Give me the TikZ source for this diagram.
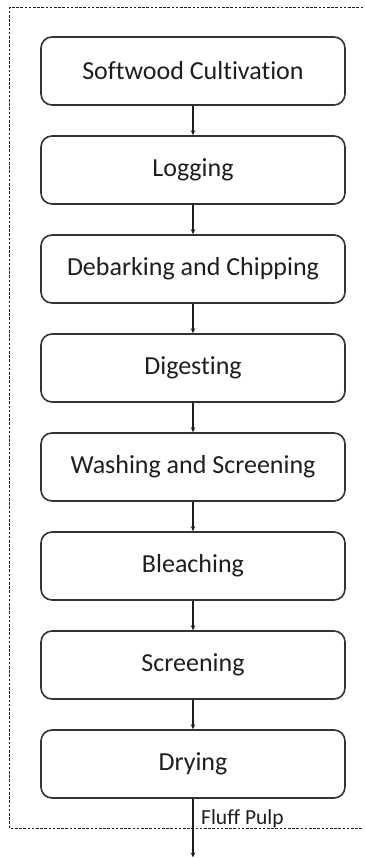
\documentclass[tikz,border=0pt]{standalone}
\usepackage{fontspec}
\setmainfont{Carlito}[Ligatures={NoCommon,NoContextual}]
\usetikzlibrary{arrows.meta}
\definecolor{edge}{HTML}{333333}
\definecolor{ink}{HTML}{1E1E1E}
\begin{document}
\begin{tikzpicture}[x=1pt,y=-1pt,
  stepbox/.style={draw=edge, line width=1.6pt, rounded corners=11pt,
    minimum width=304pt, minimum height=68pt, inner sep=0pt,
    text=ink, font=\fontsize{26}{30}\selectfont},
  flow/.style={draw=ink, line width=1.1pt, -{Stealth[length=5pt,width=4.5pt]}},
  frame/.style={draw=ink, line width=1.2pt, dash pattern=on 2.6pt off 1.6pt}]
\useasboundingbox (0,0) rectangle (364,858);
\clip (0,0) rectangle (364,858);
% process chain
\node[stepbox] (s1) at (193,71)  {Softwood Cultivation};
\node[stepbox] (s2) at (193,170) {Logging};
\node[stepbox] (s3) at (193,269) {Debarking and Chipping};
\node[stepbox] (s4) at (193,368) {Digesting};
\node[stepbox] (s5) at (193,467) {Washing and Screening};
\node[stepbox] (s6) at (193,566) {Bleaching};
\node[stepbox] (s7) at (193,665) {Screening};
\node[stepbox] (s8) at (193,764) {Drying};
% dashed system boundary
\draw[frame] (380,7.5) -- (9.5,7.5) -- (9.5,828.5) -- (380,828.5);
% connectors
\foreach \a/\b in {s1/s2,s2/s3,s3/s4,s4/s5,s5/s6,s6/s7,s7/s8}
  \draw[flow] (\a.south) -- (\b.north);
\coordinate (out) at (193,857.5);
\draw[flow] (s8.south) -- (out);
\node[anchor=west, text=ink, font=\fontsize{21.5}{24}\selectfont, inner sep=0pt] (lbl) at (201,819) {Fluff Pulp};
\end{tikzpicture}
\end{document}
